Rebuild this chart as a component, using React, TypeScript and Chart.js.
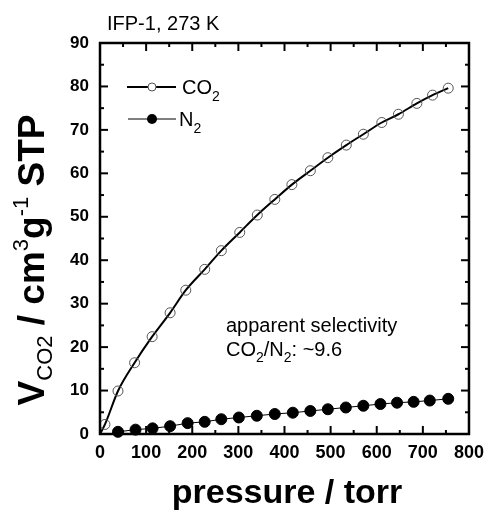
import React, { useEffect, useRef } from "react";
import { Chart, registerables } from "chart.js";

Chart.register(...registerables);

// ---- data ----
const chartTitle = "IFP-1, 273 K";
const co2Pressure = [0, 10.7, 39, 75, 113, 152, 186, 227, 263, 303, 341, 379, 416, 456, 494, 534, 571, 611, 647, 687, 721, 755];
const co2Uptake = [0, 2.2, 9.9, 16.4, 22.4, 27.9, 33.1, 37.9, 42.2, 46.4, 50.4, 54.0, 57.4, 60.6, 63.6, 66.5, 69.0, 71.7, 73.6, 76.1, 78.0, 79.6];
const n2Pressure = [39, 77, 114, 152, 190, 227, 263, 301, 340, 379, 418, 456, 494, 533, 571, 608, 644, 680, 715, 755];
const n2Uptake = [0.5, 1.0, 1.3, 1.8, 2.5, 2.8, 3.4, 3.8, 4.2, 4.6, 4.9, 5.3, 5.7, 6.1, 6.5, 6.9, 7.2, 7.4, 7.7, 8.1];
const xMin = 0, xMax = 800, xStep = 100, xMinorStep = 50;
const yMin = 0, yMax = 90, yStep = 10, yMinorStep = 5;

const FF = "'Liberation Sans', Arial, sans-serif";

type Part = { t: string; font: string; dy?: number };

function drawRich(ctx: CanvasRenderingContext2D, parts: Part[], x: number, y: number, align: "left" | "center") {
  let total = 0;
  for (const p of parts) {
    ctx.font = p.font;
    total += ctx.measureText(p.t).width;
  }
  let cx = align === "center" ? x - total / 2 : x;
  ctx.textAlign = "left";
  ctx.textBaseline = "alphabetic";
  for (const p of parts) {
    ctx.font = p.font;
    ctx.fillText(p.t, cx, y + (p.dy || 0));
    cx += ctx.measureText(p.t).width;
  }
}

const decorPlugin = {
  id: "decor",
  afterDatasetsDraw(chart: any) {
    const { ctx, chartArea: a, scales } = chart;
    const xs = scales.x, ys = scales.y;
    ctx.save();
    ctx.strokeStyle = "#000";
    ctx.fillStyle = "#000";
    // frame
    ctx.lineWidth = 2.5;
    ctx.strokeRect(a.left, a.top, a.right - a.left, a.bottom - a.top);
    // inner ticks
    ctx.lineWidth = 2;
    const seg = (x1: number, y1: number, x2: number, y2: number) => {
      ctx.beginPath();
      ctx.moveTo(x1, y1);
      ctx.lineTo(x2, y2);
      ctx.stroke();
    };
    for (let v = xMin; v <= xMax; v += xMinorStep) {
      const px = xs.getPixelForValue(v);
      const len = v % xStep === 0 ? 8 : 4;
      seg(px, a.bottom, px, a.bottom - len);
      seg(px, a.top, px, a.top + len);
    }
    for (let v = yMin; v <= yMax; v += yMinorStep) {
      const py = ys.getPixelForValue(v);
      const len = v % yStep === 0 ? 8 : 4;
      seg(a.left, py, a.left + len, py);
      seg(a.right, py, a.right - len, py);
    }

    // title
    ctx.textAlign = "left";
    ctx.textBaseline = "alphabetic";
    ctx.font = `20px ${FF}`;
    ctx.fillText(chartTitle, 107, 30);

    // x title
    ctx.font = `bold 34px ${FF}`;
    ctx.textAlign = "center";
    ctx.fillText("pressure / torr", 287, 503);

    // y title
    ctx.save();
    ctx.translate(44, 260);
    ctx.rotate(-Math.PI / 2);
    drawRich(
      ctx,
      [
        { t: "V", font: `bold 37px ${FF}` },
        { t: "CO2", font: `22px ${FF}`, dy: 8 },
        { t: " / cm", font: `bold 37px ${FF}` },
        { t: "3", font: `22px ${FF}`, dy: -16 },
        { t: "g", font: `bold 37px ${FF}` },
        { t: "-1", font: `22px ${FF}`, dy: -16 },
        { t: " STP", font: `bold 37px ${FF}` },
      ],
      0,
      0,
      "center"
    );
    ctx.restore();

    // legend
    ctx.lineWidth = 2;
    seg(127, 87, 176, 87);
    ctx.beginPath();
    ctx.arc(152, 87, 4, 0, Math.PI * 2);
    ctx.fillStyle = "#fff";
    ctx.fill();
    ctx.lineWidth = 1;
    ctx.strokeStyle = "#555";
    ctx.stroke();
    ctx.strokeStyle = "#000";
    ctx.fillStyle = "#000";
    drawRich(ctx, [
      { t: "CO", font: `20px ${FF}` },
      { t: "2", font: `14px ${FF}`, dy: 7 },
    ], 182, 94, "left");

    ctx.lineWidth = 1;
    seg(128, 119, 176, 119);
    ctx.beginPath();
    ctx.arc(152, 119, 5, 0, Math.PI * 2);
    ctx.fill();
    drawRich(ctx, [
      { t: "N", font: `20px ${FF}` },
      { t: "2", font: `14px ${FF}`, dy: 7 },
    ], 179, 126, "left");

    // annotation
    ctx.font = `20px ${FF}`;
    ctx.textAlign = "left";
    ctx.fillText("apparent selectivity", 226, 332);
    drawRich(ctx, [
      { t: "CO", font: `20px ${FF}` },
      { t: "2", font: `14px ${FF}`, dy: 6 },
      { t: "/N", font: `20px ${FF}` },
      { t: "2", font: `14px ${FF}`, dy: 6 },
      { t: ": ~9.6", font: `20px ${FF}` },
    ], 226, 356, "left");

    ctx.restore();
  },
};

export default function App() {
  const ref = useRef<HTMLCanvasElement | null>(null);

  useEffect(() => {
    if (!ref.current) return;
    const co2Data = co2Pressure.map((p, i) => ({ x: p, y: co2Uptake[i] }));
    const n2Data = n2Pressure.map((p, i) => ({ x: p, y: n2Uptake[i] }));
    const chart = new Chart(ref.current, {
      type: "line",
      data: {
        datasets: [
          {
            label: "N2",
            data: n2Data,
            borderColor: "#000",
            borderWidth: 1,
            backgroundColor: "#000",
            pointBackgroundColor: "#000",
            pointBorderColor: "#000",
            pointRadius: 5.5,
            pointBorderWidth: 1,
            tension: 0,
            clip: 10,
          } as any,
          {
            label: "CO2",
            data: co2Data,
            borderColor: "#000",
            borderWidth: 2,
            backgroundColor: "transparent",
            pointBackgroundColor: "rgba(0,0,0,0)",
            pointBorderColor: "#555",
            pointBorderWidth: 1,
            pointRadius: (c: any) => (c.dataIndex === 0 ? 0 : 5),
            cubicInterpolationMode: "monotone",
            clip: 10,
          } as any,
        ],
      },
      options: {
        animation: false,
        responsive: false,
        layout: { padding: { top: 43, right: 19, left: 0, bottom: 0 } },
        plugins: { legend: { display: false }, title: { display: false }, tooltip: { enabled: false } },
        scales: {
          x: {
            type: "linear",
            min: xMin,
            max: xMax,
            grid: { display: false, drawTicks: false },
            border: { display: false },
            ticks: {
              stepSize: xStep,
              padding: 8,
              color: "#000",
              font: { family: FF, size: 18, weight: "bold" },
              maxRotation: 0,
            },
            afterFit: (s: any) => {
              s.height = 81;
            },
          },
          y: {
            type: "linear",
            min: yMin,
            max: yMax,
            grid: { display: false, drawTicks: false },
            border: { display: false },
            ticks: {
              stepSize: yStep,
              padding: 11,
              color: "#000",
              font: { family: FF, size: 17, weight: "bold" },
            },
            afterFit: (s: any) => {
              s.width = 100;
            },
          },
        },
      } as any,
      plugins: [decorPlugin],
    });
    return () => chart.destroy();
  }, []);

  return (
    <div style={{ position: "absolute", left: 0, top: 0, width: 492, height: 515, background: "#fff" }}>
      <canvas ref={ref} width={492} height={515} style={{ width: 492, height: 515, display: "block" }} />
    </div>
  );
}
